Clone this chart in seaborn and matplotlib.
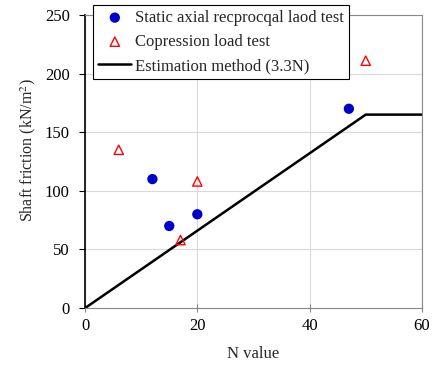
import numpy as np
import pandas as pd
import matplotlib
matplotlib.use('Agg')
import matplotlib.pyplot as plt
import seaborn as sns

static_n = [12, 15, 20, 47]
static_f = [110, 70, 80, 170]
comp_n = [6, 17, 20, 50]
comp_f = [135, 58, 108, 211]
est_n = [0, 50, 60]
est_f = [0, 165, 165]

sns.set_style('whitegrid')
plt.rcParams['font.family'] = ['Liberation Serif', 'DejaVu Serif']
plt.rcParams['mathtext.fontset'] = 'stix'

fig = plt.figure(figsize=(4.34, 3.65), dpi=100)
ax = fig.add_axes([0.196, 0.156, 0.776, 0.803])

sns.scatterplot(x=static_n, y=static_f, color='#0000cc', marker='o', s=55,
                edgecolor='none', label='Static axial recprocqal laod test', ax=ax, zorder=3)
sns.scatterplot(x=comp_n, y=comp_f, marker='^', s=45, facecolor='none',
                edgecolor='red', linewidth=1.0, label='Copression load test', ax=ax, zorder=3)
sns.lineplot(x=est_n, y=est_f, color='black', linewidth=1.8,
             label='Estimation method (3.3N)', ax=ax, zorder=2)

ax.set_xlim(0, 60)
ax.set_ylim(0, 250)
ax.set_xticks([0, 20, 40, 60])
ax.set_yticks(np.arange(0, 251, 50))
ax.grid(True, color='#d9d9d9', linewidth=0.8)
ax.set_xlabel('N value', fontsize=12, labelpad=9)
ax.set_ylabel('Shaft friction (kN/m$^2$)', fontsize=11.5)
ax.yaxis.set_label_coords(-0.14, 0.54)
ax.tick_params(axis='both', labelsize=12, length=4, width=0.8, direction='out',
               colors='black', bottom=True, left=True)
ax.tick_params(axis='y', pad=7)
ax.tick_params(axis='x', color='#888888', direction='inout', length=6, pad=4)

for side in ['top', 'right', 'bottom']:
    ax.spines[side].set_color('#888888')
    ax.spines[side].set_linewidth(0.8)
ax.spines['left'].set_color('black')
ax.spines['left'].set_linewidth(1.2)

leg = ax.legend(loc='upper left', bbox_to_anchor=(0.024, 1.034), borderaxespad=0,
                fontsize=12, frameon=True, fancybox=False, framealpha=1,
                edgecolor='black', borderpad=0.3, labelspacing=0.48,
                handlelength=2.0, handletextpad=0.2)
leg.get_frame().set_linewidth(0.8)
leg.set_zorder(10)

fig.savefig('out.png', dpi=100)
